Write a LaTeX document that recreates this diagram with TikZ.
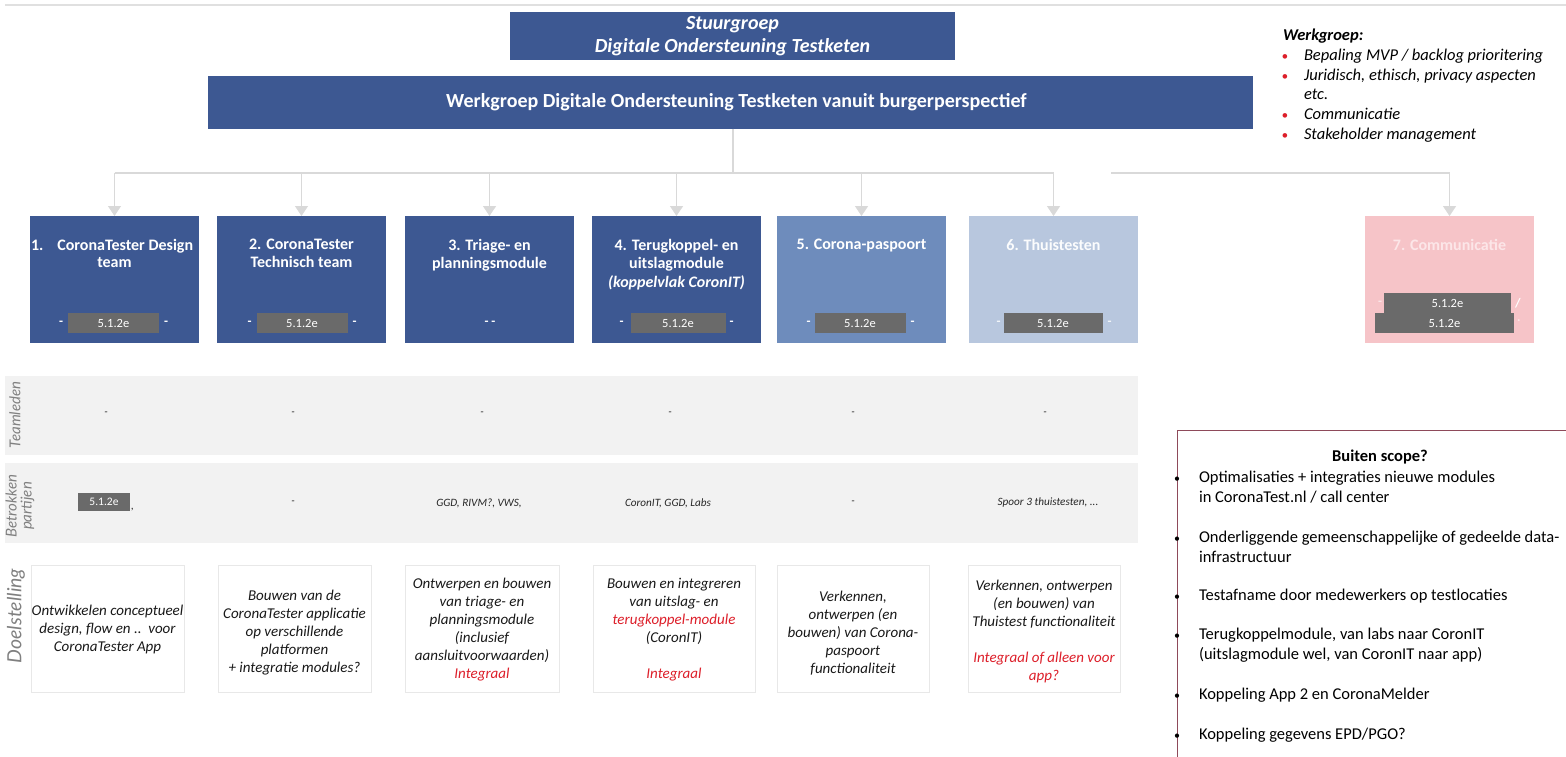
\documentclass[tikz,border=0pt]{standalone}
\usepackage{fontspec}
\setmainfont{Carlito}
\newfontfamily\lblfont{Lato}
\usetikzlibrary{arrows.meta}
\definecolor{dblue}{HTML}{3D5892}
\definecolor{mblue}{HTML}{6E8CBC}
\definecolor{lblue}{HTML}{B8C7DE}
\definecolor{pinkbox}{HTML}{F6C4C8}
\definecolor{rgray}{HTML}{6A6A6A}
\definecolor{bandgray}{HTML}{F2F2F2}
\definecolor{conngray}{HTML}{D9D9D9}
\definecolor{tred}{HTML}{DD1F2A}
\definecolor{scopeborder}{HTML}{8E4A5A}
\definecolor{faintpink}{HTML}{FCE6E8}
\newcommand\fsz[2]{\fontsize{#1}{#2}\selectfont}
\begin{document}
\begin{tikzpicture}[x=1pt,y=-1pt,
  every node/.style={inner sep=0pt, outer sep=0pt},
  teambox/.style={anchor=north west, minimum width=169pt, minimum height=127pt},
  ttl/.style={text=white, font=\fsz{16}{18.5}\bfseries, align=center, anchor=north},
  redact/.style={fill=rgray, text=white, font=\fsz{12.5}{14}, minimum width=91pt, minimum height=20pt},
  dashw/.style={text=white, font=\fsz{13}{14}\bfseries},
  band/.style={fill=bandgray, anchor=north west, minimum width=1133pt},
  celltxt/.style={font=\fsz{11.2}{13}\itshape, text=black!85},
  rowlbl/.style={rotate=90, text=black!50, font=\lblfont\fsz{15}{15}\itshape, align=center},
  doelbox/.style={draw=black!9, fill=white, anchor=north west, minimum height=127pt},
  doeltxt/.style={font=\fsz{15}{18}\itshape, align=center, text=black!90},
  conn/.style={draw=conngray, line width=1.3pt},
  arr/.style={conn, -{Triangle[width=13pt,length=10pt]}},
  bul/.style={font=\fsz{16.5}{19.8}, anchor=north west, align=left}
]
\useasboundingbox (0,0) rectangle (1566,757);
\fill[white] (0,0) rectangle (1566,757);
% top rule
\draw[line width=2pt, black!12] (5,5) -- (1566,5);

% Stuurgroep
\node[fill=dblue, anchor=north west, minimum width=445pt, minimum height=48pt,
      text=white, font=\fsz{20}{23}\bfseries\itshape, align=center] (sg) at (510,12)
  {Stuurgroep\\Digitale Ondersteuning Testketen};
% Werkgroep
\node[fill=dblue, anchor=north west, minimum width=1045pt, minimum height=53pt] (wg) at (208,76) {};
\node[text=white, font=\fsz{20}{23}\bfseries] (wgt) at ([xshift=6pt]wg.center)
  {Werkgroep Digitale Ondersteuning Testketen vanuit burgerperspectief};

% team boxes
\node[teambox, fill=dblue] (t1) at (30,216) {};
\node[teambox, fill=dblue] (t2) at (217,216) {};
\node[teambox, fill=dblue] (t3) at (405,216) {};
\node[teambox, fill=dblue] (t4) at (592,216) {};
\node[teambox, fill=mblue] (t5) at (777,216) {};
\node[teambox, fill=lblue] (t6) at (969,216) {};
\node[teambox, fill=pinkbox] (t7) at (1365,216) {};

% connectors
\coordinate (jx) at (733,173);
\coordinate (j7) at (1111,173);
\draw[conn] (wg.south -| jx) -- (jx);
\draw[conn] (t1.north |- jx) -- (t6.north |- jx);
\draw[conn] (j7) -- (t7.north |- jx);
\foreach \t in {t1,t2,t3,t4,t5,t6,t7}{
  \draw[arr] (\t.north |- jx) -- (\t.north);
}

% team titles
\begin{scope}
\clip (30,216) rectangle (199,343);
\node[text=white, font=\fsz{16}{18.5}\bfseries, anchor=north west] (t1a) at (31,239) {1.\hspace{14pt}CoronaTester Design};
\end{scope}
\node[ttl] (t1b) at (t1.north |- 0,257.5) {team};
\node[ttl] (t2t) at (t2.north |- 0,239) {2. CoronaTester\\Technisch team};
\node[ttl] (t3t) at (t3.north |- 0,239) {3. Triage- en\\planningsmodule};
\node[ttl] (t4t) at (t4.north |- 0,239) {4. Terugkoppel- en\\uitslagmodule\\\textit{(koppelvlak CoronIT)}};
\node[ttl] (t5t) at (t5.north |- 0,239) {5. Corona-paspoort};
\node[ttl, text=white!95!lblue] (t6t) at (t6.north |- 0,239) {6. Thuistesten};
\node[ttl, text=faintpink] (t7t) at (t7.north |- 0,239) {7. Communicatie};

% redactions in team boxes
\node[redact] (r1) at (113.5,323) {5.1.2e};
\node[dashw, anchor=east] (r1l) at ([xshift=-5pt]r1.west) {-};
\node[dashw, anchor=west] (r1r) at ([xshift=5pt]r1.east) {-};
\node[redact] (r2) at (302,323) {5.1.2e};
\node[dashw, anchor=east] (r2l) at ([xshift=-5pt]r2.west) {-};
\node[dashw, anchor=west] (r2r) at ([xshift=5pt]r2.east) {-};
\node[dashw] (r3) at (490,323) {- -};
\node[redact, minimum width=95pt] (r4) at (678,323) {5.1.2e};
\node[dashw, anchor=east] (r4l) at ([xshift=-7pt]r4.west) {-};
\node[dashw, anchor=west] (r4r) at ([xshift=4pt]r4.east) {-};
\node[redact] (r5) at (860,323) {5.1.2e};
\node[dashw, anchor=east] (r5l) at ([xshift=-4pt]r5.west) {-};
\node[dashw, anchor=west] (r5r) at ([xshift=5pt]r5.east) {-};
\node[redact, minimum width=99pt] (r6) at (1053,323) {5.1.2e};
\node[dashw, anchor=east, text=white!85!lblue] (r6l) at ([xshift=-3pt]r6.west) {-};
\node[dashw, anchor=west, text=white!85!lblue] (r6r) at ([xshift=5pt]r6.east) {-};
\node[redact, minimum width=127pt] (r7a) at (1447.5,303) {5.1.2e};
\node[redact, minimum width=139pt] (r7b) at (1444.5,323) {5.1.2e};
\node[dashw, text=faintpink, anchor=east] (r7l) at ([xshift=-2pt]r7a.west) {-};
\node[dashw, text=white, anchor=west] (r7s) at ([xshift=4pt]r7a.east) {/};
\node[dashw, text=faintpink, anchor=west] (r7d) at ([xshift=3pt,yshift=2pt]r7b.east) {.};

% bands
\node[band, minimum height=79pt] (b1) at (5,376) {};
\node[band, minimum height=80pt] (b2) at (5,463) {};
\node[rowlbl] (lb1) at (15,415) {Teamleden};
\node[rowlbl, font=\lblfont\fsz{15}{15}\itshape] (lb2) at (20,506) {Betrokken\\partijen};
\node[rowlbl, font=\lblfont\fsz{19.5}{21}\itshape] (lb3) at (16,616) {Doelstelling};

% row 1 dashes
\foreach \x/\n in {106/a,293/b,482/c,670/d,853/e,1045/f}{
  \node[celltxt] (d1\n) at (\x,414) {-};
}
% row 2
\node[redact, font=\fsz{11.5}{12}, minimum width=52pt, minimum height=18pt] (p1) at (104,502) {5.1.2e};
\node[celltxt, anchor=south west] (p1c) at ([xshift=1pt]p1.south east) {,};
\node[celltxt] (p2) at (293,503) {-};
\node[celltxt] (p3) at (479,503) {GGD, RIVM?, VWS,};
\node[celltxt] (p4) at (668,503) {CoronIT, GGD, Labs};
\node[celltxt] (p5) at (853,503) {-};
\node[celltxt] (p6) at (1048,503) {Spoor 3 thuistesten, ...};

% doelstelling boxes
\node[doelbox, minimum width=153pt] (g1) at (31,565) {};
\node[doelbox, minimum width=153pt] (g2) at (218,565) {};
\node[doelbox, minimum width=154pt] (g3) at (405,565) {};
\node[doelbox, minimum width=162pt] (g4) at (593,565) {};
\node[doelbox, minimum width=152pt] (g5) at (777,565) {};
\node[doelbox, minimum width=152pt] (g6) at (968,565) {};

\node[doeltxt] (g1t) at ([yshift=-1pt]g1.center) {Ontwikkelen conceptueel\\design, flow en ..\ \ voor\\CoronaTester App};
\node[doeltxt] (g2t) at ([yshift=-4pt]g2.center) {Bouwen van de\\CoronaTester applicatie\\op verschillende\\platformen\\+ integratie modules?};
\node[doeltxt] (g3t) at ([yshift=-1pt]g3.center) {Ontwerpen en bouwen\\van triage- en\\planningsmodule\\(inclusief\\aansluitvoorwaarden)\\\textcolor{tred}{Integraal}};
\node[doeltxt] (g4t) at ([yshift=-1pt]g4.center) {Bouwen en integreren\\van uitslag- en\\\textcolor{tred}{terugkoppel-module}\\(CoronIT)\\[18pt]\textcolor{tred}{Integraal}};
\node[doeltxt] (g5t) at ([yshift=-5pt]g5.center) {Verkennen,\\ontwerpen (en\\bouwen) van Corona-\\paspoort\\functionaliteit};
\node[doeltxt] (g6t) at ([yshift=-3pt]g6.center) {Verkennen, ontwerpen\\(en bouwen) van\\Thuistest functionaliteit\\[18pt]\textcolor{tred}{Integraal of alleen voor}\\\textcolor{tred}{app?}};

% werkgroep list
\node[anchor=north west, align=left, font=\fsz{16.5}{19.8}\itshape] (wl) at (1283,29)
  {\textbf{Werkgroep:}\\
   \hspace*{21pt}\llap{\textcolor{tred}{\fsz{13}{13}\textbullet}\hspace{16pt}}Bepaling MVP / backlog prioritering\\
   \hspace*{21pt}\llap{\textcolor{tred}{\fsz{13}{13}\textbullet}\hspace{16pt}}Juridisch, ethisch, privacy aspecten\\
   \hspace*{21pt}etc.\\
   \hspace*{21pt}\llap{\textcolor{tred}{\fsz{13}{13}\textbullet}\hspace{16pt}}Communicatie\\
   \hspace*{21pt}\llap{\textcolor{tred}{\fsz{13}{13}\textbullet}\hspace{16pt}}Stakeholder management};

% buiten scope
\draw[scopeborder, line width=0.8pt] (1177,770) -- (1177,430) -- (1580,430);
\node[font=\fsz{16.5}{18}\bfseries] (bs) at (1380,457) {Buiten scope?};
\foreach \y/\n/\txt in {471/a/{Optimalisaties + integraties nieuwe modules\\in CoronaTest.nl / call center},
                         531/b/{Onderliggende gemeenschappelijke of gedeelde data-\\infrastructuur},
                         589/c/{Testafname door medewerkers op testlocaties},
                         628/d/{Terugkoppelmodule, van labs naar CoronIT\\(uitslagmodule wel, van CoronIT naar app)},
                         688/e/{Koppeling App 2 en CoronaMelder},
                         728/f/{Koppeling gegevens EPD/PGO?}}{
  \node[bul] (s\n) at (1199,\y) {\txt};
  \node[font=\fsz{12}{14}, anchor=east] (sb\n) at ([xshift=-19pt,yshift=-9pt]s\n.north west) {\textbullet};
}
\end{tikzpicture}
\end{document}
